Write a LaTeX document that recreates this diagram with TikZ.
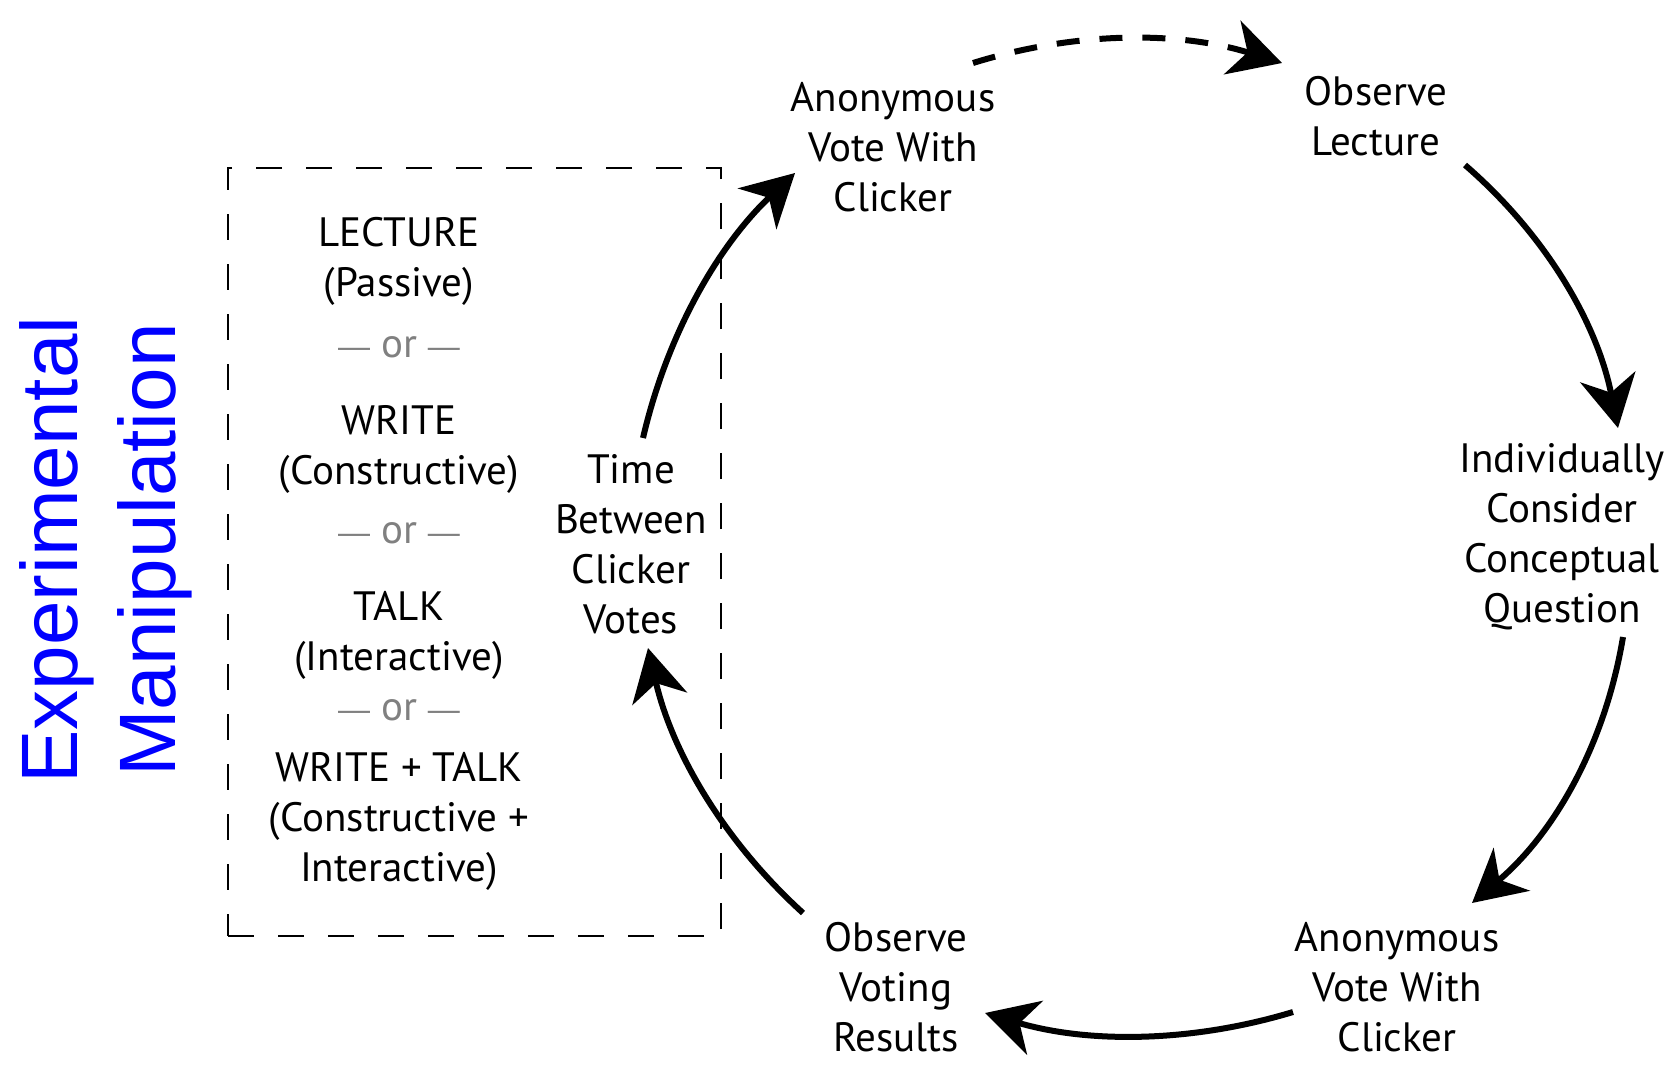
\documentclass[tikz,border=0pt]{standalone}
\usepackage{fontspec}
\setmainfont{PT Sans}
\newfontfamily\arialfont{Liberation Sans}
\usetikzlibrary{arrows.meta}
\definecolor{orgray}{RGB}{128,128,128}
\definecolor{manblue}{RGB}{0,0,255}
\newcommand{\ordash}{{\arialfont\fontsize{32}{32}\selectfont —}}
\begin{document}
\begin{tikzpicture}[x=1pt,y=-1pt,
  lbl/.style={font=\fontsize{41}{50}\selectfont, align=center, inner sep=0pt},
  orlbl/.style={lbl, text=orgray},
  flow/.style={line width=6pt, -{Stealth[length=52pt,width=56pt,inset=16pt]}},
  dflow/.style={flow, dash pattern=on 23pt off 20pt},
  manbox/.style={draw, line width=2pt, dash pattern=on 26pt off 24pt, inner sep=0pt}]
\useasboundingbox (0,0) rectangle (1673,1088);

% cycle labels
\node[lbl] (anonTop) at (893,147) {Anonymous\\Vote With\\Clicker};
\node[lbl] (obsLect) at (1376,116) {Observe\\Lecture};
\node[lbl] (indiv) at (1562,537) {Individually\\Consider\\Conceptual\\Question};
\node[lbl] (anonBot) at (1397,987) {Anonymous\\Vote With\\Clicker};
\node[lbl] (obsVote) at (896,987) {Observe\\Voting\\Results};
\node[lbl] (timeBtw) at (631,544) {Time\\Between\\Clicker\\Votes};

% manipulation box
\node[manbox, minimum width=493pt, minimum height=768pt] (box) at (474.5,552) {};
\node[lbl] (g1) at (399,261) {LECTURE\\(Passive)};
\node[orlbl] (or1) at (399,347) {\ordash{} or \ordash};
\node[lbl] (g2) at (399,449) {WRITE\\(Constructive)};
\node[orlbl] (or2) at (399,533) {\ordash{} or \ordash};
\node[lbl] (g3) at (399,635.5) {TALK\\(Interactive)};
\node[orlbl] (or3) at (399,710) {\ordash{} or \ordash};
\node[lbl] (g4) at (399,821.5) {WRITE + TALK\\(Constructive +\\Interactive)};

% side title
\node[align=center, inner sep=0pt, text=manblue, rotate=90,
      font=\arialfont\fontsize{80}{98}\selectfont] (title) at (106,550)
      {Experimental\\Manipulation};

% connector end points
\coordinate (a1s) at (1465,165);  \coordinate (a1e) at (1618,428);
\coordinate (a2s) at (1623,637);  \coordinate (a2e) at (1472,903);
\coordinate (a3s) at (1293,1012); \coordinate (a3e) at (985,1013);
\coordinate (a4s) at (803,913);   \coordinate (a4e) at (648,648);
\coordinate (a5s) at (643,438);   \coordinate (a5e) at (795,173);
\coordinate (a6s) at (973,63);    \coordinate (a6e) at (1282,63);

\draw[flow] (a1s) .. controls (1546,235.2) and (1597,322.9) .. (a1e);
\draw[flow] (a2s) .. controls (1605.1,744.1) and (1554.8,832.8) .. (a2e);
\draw[flow] (a3s) .. controls (1190.3,1043) and (1087.7,1043.3) .. (a3e);
\draw[flow] (a4s) .. controls (723.7,840.8) and (672.1,752.5) .. (a4e);
\draw[flow] (a5s) .. controls (667.1,334.4) and (717.7,246.1) .. (a5e);
\draw[dflow] (a6s) .. controls (1076,31) and (1179,31) .. (a6e);
\end{tikzpicture}
\end{document}
